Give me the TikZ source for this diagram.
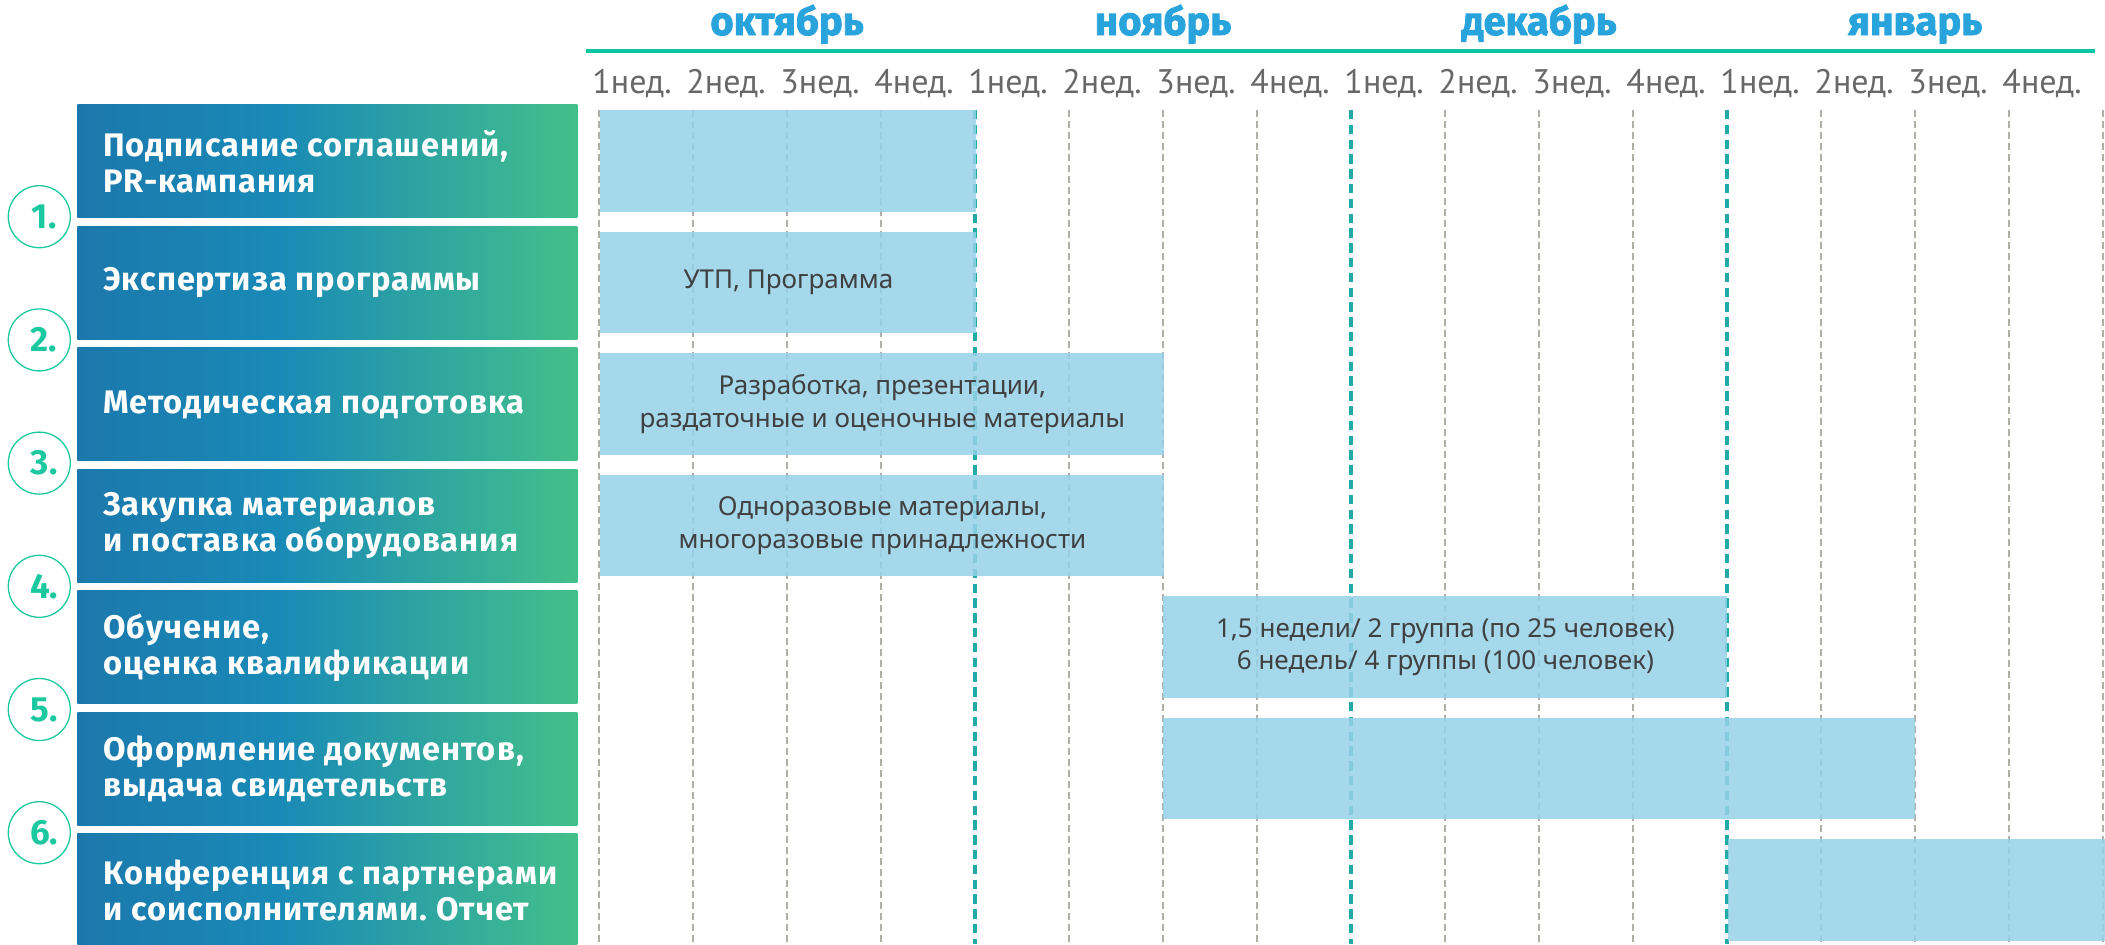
\documentclass[tikz,border=0pt]{standalone}
\usepackage{fontspec}
\setmainfont{Noto Sans}
\newfontfamily\weekfont{PT Sans}
\newfontfamily\boldfont{Fira Sans}[LetterSpace=3]
\newfontfamily\numfont{Fira Sans}
\newfontfamily\monthfont{Fira Sans}[FakeBold=2]
\frenchspacing
\definecolor{gA}{RGB}{28,120,172}
\definecolor{gB}{RGB}{25,138,183}
\definecolor{gC}{RGB}{67,192,138}
\definecolor{monthblue}{RGB}{41,163,219}
\definecolor{headteal}{RGB}{12,198,162}
\definecolor{weekgray}{RGB}{104,104,104}
\definecolor{gridgray}{RGB}{179,174,168}
\definecolor{gridteal}{RGB}{32,170,170}
\definecolor{barblue}{RGB}{150,209,232}
\definecolor{bartext}{RGB}{64,64,64}
\definecolor{numteal}{RGB}{28,200,160}
\pgfdeclarehorizontalshading{boxgrad}{100bp}{color(0bp)=(gA); color(25bp)=(gA); color(45bp)=(gB); color(75bp)=(gC); color(100bp)=(gC)}
\tikzset{
  rowbox/.style={shade, shading=boxgrad, anchor=north west, minimum width=250pt,
    minimum height=56.5pt, inner sep=0pt},
  rowtext/.style={anchor=west, inner sep=0pt, align=left, text=white,
    font=\boldfont\bfseries\fontsize{16.3}{17.9}\selectfont},
  numcirc/.style={circle, draw=numteal, line width=0.65pt, minimum size=31pt, inner sep=0pt},
  numtxt/.style={text=numteal, font=\numfont\bfseries\fontsize{17.5}{18}\selectfont, inner sep=0pt},
  month/.style={text=monthblue, anchor=base, font=\monthfont\bfseries\fontsize{20}{22}\selectfont, inner sep=0pt},
  week/.style={text=weekgray, anchor=base, font=\weekfont\fontsize{17}{18}\selectfont, inner sep=0pt},
  gline/.style={draw=gridgray, line width=1.35pt, dash pattern=on 3.3pt off 2.2pt},
  tline/.style={draw=gridteal, line width=1.65pt, dash pattern=on 4.7pt off 2.7pt},
  bar/.style={fill=barblue, fill opacity=0.85, text opacity=1, anchor=north west,
    minimum height=50.75pt, inner sep=0pt, align=center, text=bartext,
    font=\fontsize{13}{16.15}\selectfont},
}
\begin{document}
\begin{tikzpicture}[x=0.5pt,y=-0.5pt]
\useasboundingbox (0,0) rectangle (2105,944);
% month header
\foreach \m/\name in {0/октябрь,1/ноябрь,2/декабрь,3/январь}{
  \node[month] (m\m) at ({787+376*\m},35) {\name};
}
\coordinate (hl) at (586,51);
\coordinate (hr) at (2095,51);
\draw[headteal, line width=1.65pt] (hl) -- (hr);
% week labels
\foreach \k in {0,...,15}{
  \pgfmathtruncatemacro{\w}{mod(\k,4)+1}
  \node[week] (w\k) at ({632+94*\k},93) {\w нед.};
}
% grid lines
\foreach \k in {0,...,16}{
  \coordinate (gt\k) at ({599+94*\k},110);
  \coordinate (gb\k) at ({599+94*\k},944);
}
\foreach \k in {0,1,2,3,5,6,7,9,10,11,13,14,15,16}{
  \draw[gline] (gt\k) -- (gb\k);
}
\foreach \k in {4,8,12}{
  \draw[tline] (gt\k) -- (gb\k);
}
% row boxes with labels
\foreach \i/\txt in {1/{Подписание соглашений,\\PR-кампания},
                     2/{Экспертиза программы},
                     3/{Методическая подготовка},
                     4/{Закупка материалов\\и поставка оборудования},
                     5/{Обучение,\\оценка квалификации},
                     6/{Оформление документов,\\выдача свидетельств},
                     7/{Конференция с партнерами\\и соисполнителями. Отчет}}{
  \node[rowbox] (b\i) at (77,{104.5+121.5*(\i-1)}) {};
  \node[rowtext] (t\i) at ([xshift=13pt]b\i.west) {\txt};
}
% numbered circles
\foreach \i in {1,...,6}{
  \node[numcirc] (c\i) at (39.3,{216.7+123.2*(\i-1)}) {};
  \node[numtxt] (n\i) at ([xshift=2.4pt]c\i.center) {\i.};
}
% bars
\node[bar, minimum width=188pt] (r1) at (600,110) {};
\node[bar, minimum width=188pt] (r2) at (600,231.5) {УТП, Программа};
\node[bar, minimum width=282pt] (r3) at (600,353) {Разработка, презентации,\\раздаточные и оценочные материалы};
\node[bar, minimum width=282pt] (r4) at (600,474.5) {Одноразовые материалы,\\многоразовые принадлежности};
\node[bar, minimum width=282pt] (r5) at (1163,596) {1,5 недели/ 2 группа (по 25 человек)\\6 недель/ 4 группы (100 человек)};
\node[bar, minimum width=376pt] (r6) at (1163,717.5) {};
\node[bar, minimum width=188.5pt] (r7) at (1728,839) {};
\end{tikzpicture}
\end{document}
